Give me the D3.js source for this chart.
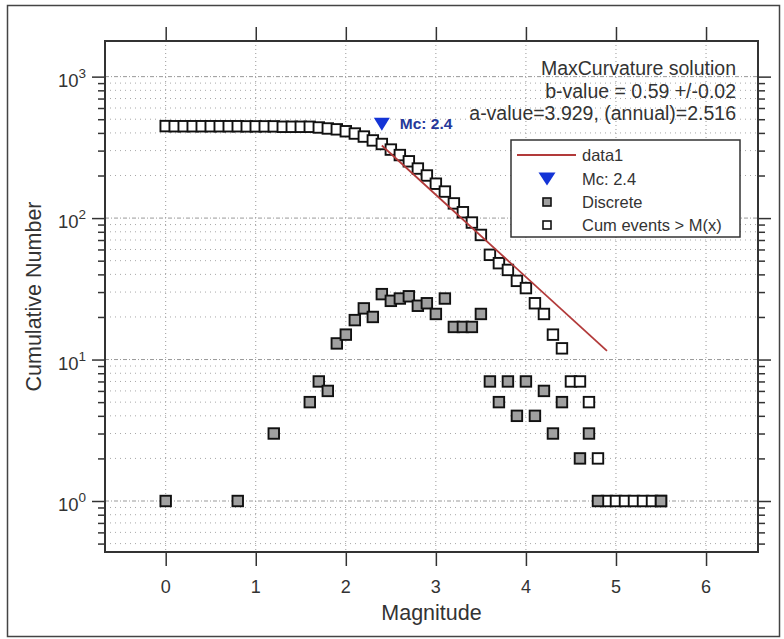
<!DOCTYPE html>
<html>
<head>
<meta charset="utf-8">
<script src="https://cdn.jsdelivr.net/npm/d3@7"></script>
<style>
  body { margin: 0; background: #fff; }
  svg text { font-family: "Liberation Sans", Arial, sans-serif; fill: #333; }
</style>
</head>
<body>
<svg id="chart" width="784" height="639"></svg>
<script>
// cumulative counts N(M >= x), one per 0.1 bin
var cumMag = [0.0, 0.1, 0.2, 0.3, 0.4, 0.5, 0.6, 0.7, 0.8, 0.9, 1.0, 1.1, 1.2, 1.3, 1.4, 1.5, 1.6, 1.7, 1.8, 1.9,
  2.0, 2.1, 2.2, 2.3, 2.4, 2.5, 2.6, 2.7, 2.8, 2.9, 3.0, 3.1, 3.2, 3.3, 3.4, 3.5, 3.6, 3.7, 3.8, 3.9,
  4.0, 4.1, 4.2, 4.3, 4.4, 4.5, 4.6, 4.7, 4.8, 4.9, 5.0, 5.1, 5.2, 5.3, 5.4, 5.5];
var cumCount = [447, 446, 446, 446, 446, 446, 446, 446, 446, 445, 445, 445, 445, 442, 442, 442, 442, 437, 430, 424,
  411, 396, 377, 354, 334, 305, 279, 252, 224, 200, 175, 154, 127, 110, 93, 76, 55, 48, 43, 36,
  32, 25, 21, 15, 12, 7, 7, 5, 2, 1, 1, 1, 1, 1, 1, 1];

// discrete counts (non-zero bins only)
var discMag = [0.0, 0.8, 1.2, 1.6, 1.7, 1.8, 1.9, 2.0, 2.1, 2.2, 2.3, 2.4, 2.5, 2.6, 2.7, 2.8, 2.9, 3.0,
  3.1, 3.2, 3.3, 3.4, 3.5, 3.6, 3.7, 3.8, 3.9, 4.0, 4.1, 4.2, 4.3, 4.4, 4.6, 4.7, 4.8, 5.5];
var discCount = [1, 1, 3, 5, 7, 6, 13, 15, 19, 23, 20, 29, 26, 27, 28, 24, 25, 21,
  27, 17, 17, 17, 21, 7, 5, 7, 4, 7, 4, 6, 3, 5, 2, 3, 1, 1];

// fitted line (data1) and Mc marker
var fitMag = [2.4, 4.9];
var fitCount = [326, 11.5];
var mcMag = [2.4];
var mcCount = [461];

var xTicks = [0, 1, 2, 3, 4, 5, 6];
var yMajor = [1, 10, 100, 1000];
var yExp = ['0', '1', '2', '3'];
var yMinor = [0.5, 0.6, 0.7, 0.8, 0.9, 2, 3, 4, 5, 6, 7, 8, 9, 20, 30, 40, 50, 60, 70, 80, 90, 200, 300, 400, 500, 600, 700, 800, 900];

var infoLines = ['MaxCurvature solution', 'b-value = 0.59 +/-0.02', 'a-value=3.929, (annual)=2.516'];
var legendLabels = ['data1', 'Mc: 2.4', 'Discrete', 'Cum events > M(x)'];

var plot = { left: 105, top: 41, right: 758, bottom: 552 };

var svg = d3.select('#chart');

var x = d3.scaleLinear().domain([-0.674, 6.577]).range([plot.left, plot.right]);
var y = d3.scaleLog().domain([0.436, 1786]).range([plot.bottom, plot.top]);

// figure border
svg.append('rect')
  .attr('x', 7.5).attr('y', 5.5)
  .attr('width', 772).attr('height', 631)
  .attr('fill', 'none')
  .attr('stroke', '#444')
  .attr('stroke-width', 1.5);

// grid
var grid = svg.append('g');
grid.selectAll('.vgrid')
  .data(xTicks)
  .enter()
  .append('line')
  .attr('x1', function(d) { return x(d); })
  .attr('x2', function(d) { return x(d); })
  .attr('y1', plot.top).attr('y2', plot.bottom)
  .attr('stroke', '#999')
  .attr('stroke-width', 1)
  .attr('stroke-dasharray', '1,3');

grid.selectAll('.hminor')
  .data(yMinor)
  .enter()
  .append('line')
  .attr('x1', plot.left).attr('x2', plot.right)
  .attr('y1', function(d) { return y(d); })
  .attr('y2', function(d) { return y(d); })
  .attr('stroke', '#a8a8a8')
  .attr('stroke-width', 1)
  .attr('stroke-dasharray', '1,4');

grid.selectAll('.hmajor')
  .data(yMajor)
  .enter()
  .append('line')
  .attr('x1', plot.left).attr('x2', plot.right)
  .attr('y1', function(d) { return y(d); })
  .attr('y2', function(d) { return y(d); })
  .attr('stroke', '#999')
  .attr('stroke-width', 1)
  .attr('stroke-dasharray', '4,2,1,2');

// axes (ticks point outward on all four sides)
function styleAxis(g) {
  g.select('.domain').remove();
  g.selectAll('line').attr('stroke', '#333').attr('stroke-width', 1.5);
  g.selectAll('text').remove();
}

svg.append('g')
  .attr('transform', 'translate(0,' + plot.bottom + ')')
  .call(d3.axisBottom(x).tickValues(xTicks).tickSize(14))
  .call(styleAxis);
svg.append('g')
  .attr('transform', 'translate(0,' + plot.top + ')')
  .call(d3.axisTop(x).tickValues(xTicks).tickSize(14))
  .call(styleAxis);

svg.append('g')
  .attr('transform', 'translate(' + plot.left + ',0)')
  .call(d3.axisLeft(y).tickValues(yMajor).tickSize(13))
  .call(styleAxis);
svg.append('g')
  .attr('transform', 'translate(' + plot.left + ',0)')
  .call(d3.axisLeft(y).tickValues(yMinor).tickSize(7))
  .call(styleAxis);
svg.append('g')
  .attr('transform', 'translate(' + plot.right + ',0)')
  .call(d3.axisRight(y).tickValues(yMajor).tickSize(13))
  .call(styleAxis);
svg.append('g')
  .attr('transform', 'translate(' + plot.right + ',0)')
  .call(d3.axisRight(y).tickValues(yMinor).tickSize(7))
  .call(styleAxis);

// tick labels
svg.selectAll('.xlabel')
  .data(xTicks)
  .enter()
  .append('text')
  .attr('x', function(d) { return x(d); })
  .attr('y', 593)
  .attr('text-anchor', 'middle')
  .style('font-size', '18px')
  .text(function(d) { return d; });

var ylab = svg.selectAll('.ylabel')
  .data(yMajor)
  .enter()
  .append('text')
  .attr('x', 86)
  .attr('y', function(d) { return y(d) + 10; })
  .attr('text-anchor', 'end')
  .style('font-size', '18.5px');
ylab.append('tspan').text('10');
ylab.append('tspan')
  .attr('dy', -9)
  .style('font-size', '13.5px')
  .text(function(d, i) { return yExp[i]; });

// frame
svg.append('rect')
  .attr('x', plot.left).attr('y', plot.top)
  .attr('width', plot.right - plot.left)
  .attr('height', plot.bottom - plot.top)
  .attr('fill', 'none')
  .attr('stroke', '#333')
  .attr('stroke-width', 2);

// axis titles
svg.append('text')
  .attr('x', (plot.left + plot.right) / 2)
  .attr('y', 620)
  .attr('text-anchor', 'middle')
  .style('font-size', '21.5px')
  .text('Magnitude');

svg.append('text')
  .attr('transform', 'translate(41,' + (plot.top + plot.bottom) / 2 + ') rotate(-90)')
  .attr('text-anchor', 'middle')
  .style('font-size', '21.5px')
  .text('Cumulative Number');

// cumulative squares
var sq = 10.5;
svg.append('g')
  .selectAll('rect')
  .data(cumMag)
  .enter()
  .append('rect')
  .attr('x', function(d) { return x(d) - sq / 2; })
  .attr('y', function(d, i) { return y(cumCount[i]) - sq / 2; })
  .attr('width', sq).attr('height', sq)
  .attr('fill', '#fff')
  .attr('stroke', '#111')
  .attr('stroke-width', 1.9);

// discrete squares
svg.append('g')
  .selectAll('rect')
  .data(discMag)
  .enter()
  .append('rect')
  .attr('x', function(d) { return x(d) - sq / 2; })
  .attr('y', function(d, i) { return y(discCount[i]) - sq / 2; })
  .attr('width', sq).attr('height', sq)
  .attr('fill', '#a0a0a0')
  .attr('stroke', '#111')
  .attr('stroke-width', 1.9);

// fit line
var line = d3.line()
  .x(function(d) { return x(d); })
  .y(function(d, i) { return y(fitCount[i]); });
svg.append('path')
  .datum(fitMag)
  .attr('d', line)
  .attr('fill', 'none')
  .attr('stroke', '#b23a3a')
  .attr('stroke-width', 1.8);

// Mc triangle
var tri = function(cx, cy, w, h) {
  return 'M' + (cx - w / 2) + ',' + (cy - h / 2) + 'L' + (cx + w / 2) + ',' + (cy - h / 2) + 'L' + cx + ',' + (cy + h / 2) + 'Z';
};
svg.selectAll('.mc')
  .data(mcMag)
  .enter()
  .append('path')
  .attr('d', function(d, i) { return tri(x(d), y(mcCount[i]), 16, 13); })
  .attr('fill', '#1434d6');

svg.append('text')
  .attr('x', x(mcMag[0]) + 18)
  .attr('y', y(mcCount[0]) + 5)
  .style('font-size', '15.5px')
  .style('font-weight', 'bold')
  .style('fill', '#26389a')
  .text('Mc: 2.4');

// info text
svg.selectAll('.info')
  .data(infoLines)
  .enter()
  .append('text')
  .attr('x', 736)
  .attr('y', function(d, i) { return 75 + i * 22.5; })
  .attr('text-anchor', 'end')
  .style('font-size', '19.5px')
  .text(function(d) { return d; });

// legend
var leg = svg.append('g');
leg.append('rect')
  .attr('x', 511).attr('y', 140)
  .attr('width', 229).attr('height', 97)
  .attr('fill', '#fff')
  .attr('stroke', '#333')
  .attr('stroke-width', 1.5);
var rowY = [155, 179, 202, 225];
leg.append('line')
  .attr('x1', 517).attr('x2', 576)
  .attr('y1', rowY[0]).attr('y2', rowY[0])
  .attr('stroke', '#b23a3a')
  .attr('stroke-width', 1.8);
leg.append('path')
  .attr('d', tri(547, rowY[1], 17, 13))
  .attr('fill', '#1434d6');
leg.append('rect')
  .attr('x', 543).attr('y', rowY[2] - 4)
  .attr('width', 8).attr('height', 8)
  .attr('fill', '#a0a0a0')
  .attr('stroke', '#111')
  .attr('stroke-width', 1.6);
leg.append('rect')
  .attr('x', 543).attr('y', rowY[3] - 4)
  .attr('width', 8).attr('height', 8)
  .attr('fill', '#fff')
  .attr('stroke', '#111')
  .attr('stroke-width', 1.6);
leg.selectAll('.ltext')
  .data(legendLabels)
  .enter()
  .append('text')
  .attr('x', 582)
  .attr('y', function(d, i) { return rowY[i] + 6; })
  .style('font-size', '16.5px')
  .text(function(d) { return d; });
</script>
</body>
</html>
